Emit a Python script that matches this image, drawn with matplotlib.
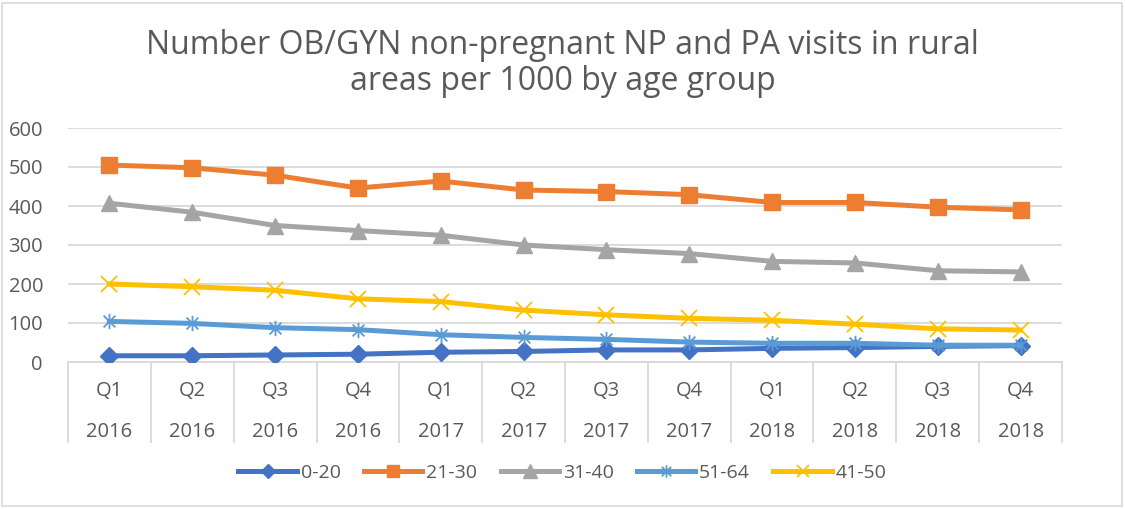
import numpy as np
import matplotlib.pyplot as plt
from matplotlib.path import Path
from matplotlib.patches import Rectangle
from matplotlib.transforms import blended_transform_factory

plt.rcParams['font.family'] = ['Open Sans', 'DejaVu Sans']

# 数据
quarters = ['Q1', 'Q2', 'Q3', 'Q4'] * 3
years = ['2016'] * 4 + ['2017'] * 4 + ['2018'] * 4
age_0_20 = [16, 16, 18, 20, 25, 27, 31, 31, 35, 37, 40, 42]
age_21_30 = [505, 498, 479, 446, 464, 441, 437, 429, 409, 409, 397, 390]
age_31_40 = [407, 384, 350, 337, 325, 300, 288, 278, 258, 254, 234, 231]
age_51_64 = [104, 99, 88, 83, 70, 63, 58, 51, 48, 48, 43, 43]
age_41_50 = [200, 193, 184, 162, 155, 133, 121, 112, 107, 97, 85, 82]
title_lines = ['Number OB/GYN non-pregnant NP and PA visits in rural', 'areas per 1000 by age group']

# 星号标记: X 加竖线
star = Path([(-1, -1), (1, 1), (-1, 1), (1, -1), (0, -1.3), (0, 1.3)],
            [Path.MOVETO, Path.LINETO, Path.MOVETO, Path.LINETO, Path.MOVETO, Path.LINETO])

txt = '#595959'
grid = '#D9D9D9'

fig = plt.figure(figsize=(11.25, 5.09), dpi=100)
ax = fig.add_axes([68 / 1125, 147 / 509, 994 / 1125, 234 / 509])
x = np.arange(len(quarters))

ax.plot(x, age_0_20, color='#4472C4', lw=3.6, marker='D', ms=9, label='0-20', zorder=5)
ax.plot(x, age_21_30, color='#ED7D31', lw=3.6, marker='s', ms=11, label='21-30', zorder=5)
ax.plot(x, age_31_40, color='#A5A5A5', lw=3.6, marker='^', ms=12, label='31-40', zorder=5)
ax.plot(x, age_51_64, color='#5B9BD5', lw=3.6, marker=star, ms=11, mew=1.3, label='51-64', zorder=5)
ax.plot(x, age_41_50, color='#FFC000', lw=3.6, marker='x', ms=11, mew=1.3, label='41-50', zorder=5)

ax.set_xlim(-0.5, 11.5)
ax.set_ylim(0, 600)
ax.set_yticks(np.arange(0, 601, 100))
ax.yaxis.grid(True, color=grid, lw=1.3)
ax.set_axisbelow(True)
for s in ['top', 'right', 'left']:
    ax.spines[s].set_visible(False)
ax.spines['bottom'].set_color(grid)
ax.spines['bottom'].set_linewidth(1.3)
ax.tick_params(axis='y', length=0, labelsize=14.5, labelcolor=txt, pad=18)

# 多级分类轴
ax.set_xticks(np.arange(-0.5, 12, 1))
ax.set_xticklabels([])
ax.tick_params(axis='x', length=58, width=1.3, color=grid)
tr = blended_transform_factory(ax.transData, ax.transAxes)
for i in x:
    ax.text(i, -29 / 234, quarters[i], transform=tr, ha='center', va='center', fontsize=14.5, color=txt)
    ax.text(i, -70 / 234, years[i], transform=tr, ha='center', va='center', fontsize=14.5, color=txt)

# 标题两行
fig.text(0.5, 1 - 45 / 509, title_lines[0], ha='center', va='center', fontsize=23, color=txt)
fig.text(0.5, 1 - 82 / 509, title_lines[1], ha='center', va='center', fontsize=23, color=txt)

fig.legend(loc='center', bbox_to_anchor=(0.5, 1 - 473 / 509), ncol=5, frameon=False,
           fontsize=14, labelcolor=txt, handlelength=3, columnspacing=1.2, handletextpad=0.2,
           markerscale=0.8)

fig.patches.append(Rectangle((2 / 1125, 3 / 509), 1120 / 1125, 503 / 509, transform=fig.transFigure,
                             fill=False, edgecolor=grid, lw=1.2))

plt.savefig('out.png')
